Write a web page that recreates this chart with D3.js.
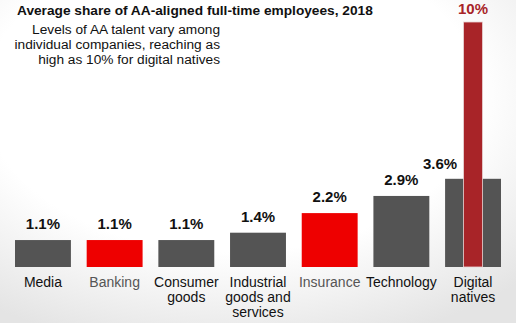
<!DOCTYPE html>
<html>
<head>
<meta charset="utf-8">
<script src="https://cdn.jsdelivr.net/npm/d3@7"></script>
<style>
  html, body { margin: 0; padding: 0; background: #fff; }
  svg { display: block; font-family: "Liberation Sans", Arial, sans-serif; }
</style>
</head>
<body>
<div id="chart"></div>
<script>
// Average share of AA-aligned full-time employees by industry, 2018 (%)
const categories = ["Media", "Banking", "Consumer goods", "Industrial goods and services", "Insurance", "Technology", "Digital natives"];
const categoryLines = [["Media"], ["Banking"], ["Consumer", "goods"], ["Industrial", "goods and", "services"], ["Insurance"], ["Technology"], ["Digital", "natives"]];
const shares = [1.1, 1.1, 1.1, 1.4, 2.2, 2.9, 3.6];
const highlighted = ["Banking", "Insurance"];
// Highest individual company share within the digital natives group
const peakCategory = "Digital natives";
const peakValue = 10;

const titleText = "Average share of AA-aligned full-time employees, 2018";
const noteLines = ["Levels of AA talent vary among", "individual companies, reaching as", "high as 10% for digital natives"];

const W = 516, H = 323;
const svg = d3.select("#chart").append("svg").attr("width", W).attr("height", H);

// soft grey vignette background
const defs = svg.append("defs");
const grad = defs.append("radialGradient").attr("id", "bg")
  .attr("cx", "45%").attr("cy", "30%").attr("r", "80%");
grad.append("stop").attr("offset", "60%").attr("stop-color", "#ffffff");
grad.append("stop").attr("offset", "100%").attr("stop-color", "#e4e4e4");
svg.append("rect").attr("width", W).attr("height", H).attr("fill", "url(#bg)");

const x = d3.scaleBand().domain(categories).range([15, 501]).paddingInner(0.22).paddingOuter(0);
const y = d3.scaleLinear().domain([0, peakValue]).range([267, 22]);

const grey = "#545454", red = "#ee0000", darkRed = "#a82428";

// main bars
svg.selectAll("rect.bar").data(categories).join("rect")
  .attr("class", "bar")
  .attr("x", d => x(d))
  .attr("width", x.bandwidth())
  .attr("y", (d, i) => y(shares[i]))
  .attr("height", (d, i) => y(0) - y(shares[i]))
  .attr("fill", d => highlighted.includes(d) ? red : grey);

// peak bar overlaid on the digital natives bar
const peakW = 19;
const peakX = x(peakCategory) + x.bandwidth() / 2 - peakW / 2;
svg.append("rect")
  .attr("x", peakX).attr("width", peakW)
  .attr("y", y(peakValue)).attr("height", y(0) - y(peakValue))
  .attr("fill", darkRed).attr("stroke", "#e9d6d6").attr("stroke-width", 0.8);

svg.append("text")
  .attr("x", peakX + peakW / 2).attr("y", 14)
  .attr("text-anchor", "middle").attr("font-size", 15).attr("font-weight", "bold")
  .attr("fill", darkRed).text(peakValue + "%");

// value labels
svg.selectAll("text.val").data(categories).join("text")
  .attr("class", "val")
  .attr("x", d => x(d) + x.bandwidth() / 2 - (d === peakCategory ? 33 : 0))
  .attr("y", (d, i) => y(shares[i]) - (d === peakCategory ? 10 : 11))
  .attr("text-anchor", "middle").attr("font-size", 15).attr("font-weight", "bold")
  .attr("fill", "#111")
  .text((d, i) => d3.format(".1f")(shares[i]) + "%");

// category labels
const cat = svg.selectAll("text.cat").data(categories).join("text")
  .attr("class", "cat")
  .attr("text-anchor", "middle").attr("font-size", 14)
  .attr("fill", d => highlighted.includes(d) ? "#555" : "#111");
cat.each(function(d, i) {
  const cx = x(d) + x.bandwidth() / 2;
  d3.select(this).selectAll("tspan").data(categoryLines[i]).join("tspan")
    .attr("x", cx).attr("y", (l, j) => 287 + j * 15).text(l => l);
});

// title and note
svg.append("text").attr("x", 17).attr("y", 15)
  .attr("font-size", 13.7).attr("font-weight", "bold").attr("fill", "#111")
  .text(titleText);

svg.append("text").attr("text-anchor", "end").attr("font-size", 13.7).attr("fill", "#111")
  .selectAll("tspan").data(noteLines).join("tspan")
  .attr("x", 220).attr("y", (l, j) => 34 + j * 15).text(l => l);
</script>
</body>
</html>
